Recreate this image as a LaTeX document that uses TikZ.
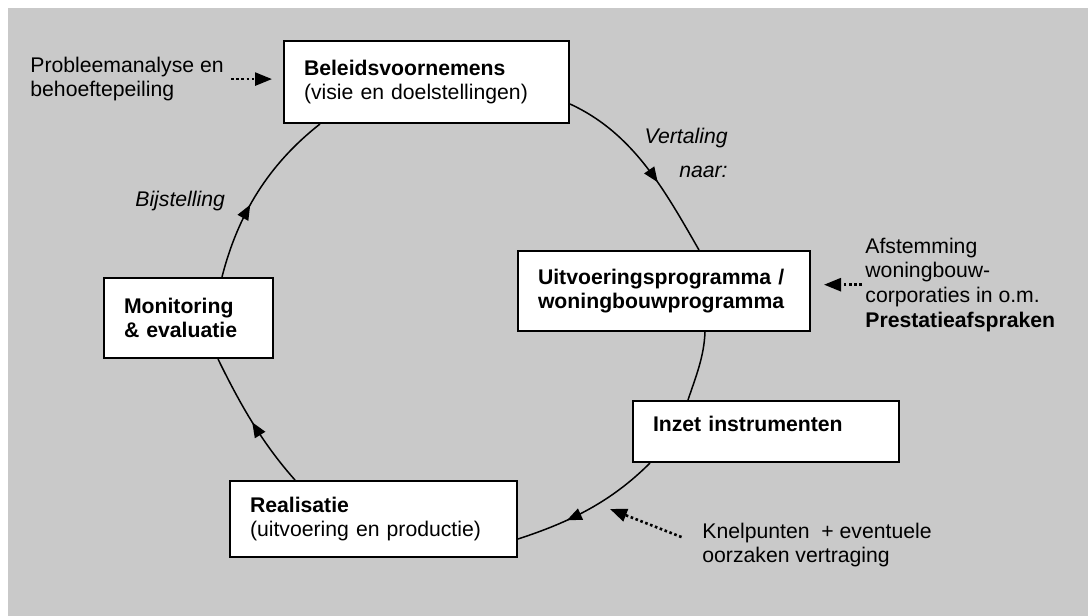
\documentclass[tikz,border=0pt]{standalone}
\usepackage{fontspec}
\setmainfont{Liberation Sans}
\usepackage{tikz}
\usetikzlibrary{arrows.meta}
\usetikzlibrary{decorations.markings}
\usetikzlibrary{positioning}
\definecolor{bggray}{HTML}{C9C9C9}

\begin{document}
\begin{tikzpicture}[
  x=0.5pt, y=-0.5pt,
  every node/.style={font=\fontsize{10.6}{12.3}\selectfont},
  stage/.style 2 args={
    draw, line width=1pt, fill=white,
    anchor=north west, align=left,
    inner xsep=10pt, inner ysep=0pt,
    text width=#1, minimum height=#2},
  note/.style={anchor=north west, align=left, inner sep=0pt},
  lbl/.style={font=\fontsize{10.6}{12.3}\selectfont\itshape, inner sep=0pt},
  flow/.style={
    line width=0.75pt,
    decoration={markings,
      mark=at position #1 with {\arrow{Triangle[length=7.5pt,width=6pt]}}},
    postaction={decorate}},
  feed/.style={
    -{Triangle[length=8.5pt,width=6.5pt]}, line width=1.3pt,
    dash pattern=on 1.3pt off 1.3pt},
]

  % Background
  \useasboundingbox (0,0) rectangle (1088,616);
  \fill[bggray] (8,8) rectangle (1088,616);

  % Stages of the cycle
  \node[stage={122.5pt}{41pt}] (bel) at (283,40)
    {\textbf{Beleidsvoornemens}\\(visie en doelstellingen)};
  \node[stage={126pt}{40pt}] (uitv) at (517,250)
    {\textbf{Uitvoeringsprogramma /}\\\textbf{woningbouwprogramma}};
  \node[stage={113pt}{30.5pt}, text depth=7.5pt] (inzet) at (632,400)
    {\textbf{Inzet instrumenten}};
  \node[stage={123.5pt}{38pt}] (real) at (229,480)
    {\textbf{Realisatie}\\(uitvoering en productie)};
  \node[stage={64.5pt}{40pt}] (mon) at (103,277)
    {\textbf{Monitoring}\\\textbf{\& evaluatie}};

  % Inputs from outside
  \node[note] (probl) at (30,56.5) {Probleemanalyse en\\behoeftepeiling};
  \node[note] (afst) at (865,237.5)
    {Afstemming\\woningbouw-\\corporaties in o.m.\\\textbf{Prestatieafspraken}};
  \node[note] (knel) at (702,522.5) {Knelpunten\ \ + eventuele\\oorzaken vertraging};

  % Arc labels
  \node[lbl, anchor=base east] (vert) at (728,143) {Vertaling};
  \node[lbl, anchor=base east] (naar) at (728,177) {naar:};
  \node[lbl, anchor=base west] (bijst) at (135,206) {Bijstelling};

  % The cycle
  \draw[flow=0.6] ([yshift=10pt]bel.south east)
    .. controls +(63,29) and +(-35,-61) .. ([xshift=-56pt]uitv.north east);
  \draw[line width=0.75pt] ([xshift=-53pt]uitv.south east)
    .. controls +(-1,25) and +(8,-24) .. ([xshift=28pt]inzet.north west);
  \draw[flow=0.66] ([xshift=9pt]inzet.south west)
    .. controls +(-39,39) and +(52,-17) .. ([yshift=9.5pt]real.south east);
  \draw[flow=0.5] ([xshift=33pt]real.north west)
    .. controls +(-33,-37) and +(22,45) .. ([xshift=57.5pt]mon.south west);
  \draw[flow=0.42] ([xshift=59.5pt]mon.north west)
    .. controls +(16,-63) and +(-51,40) .. ([xshift=18.5pt]bel.south west);

  % Dotted inputs
  \draw[feed, shorten <=3.5pt, shorten >=5.5pt] (probl.east) -- (probl.east -| bel.west);
  \draw[feed, shorten <=1.5pt, shorten >=6.5pt] (afst.west) -- (afst.west -| uitv.east);
  \coordinate (knelpt) at (610,509);
  \draw[feed, shorten <=11pt] (knel.west) -- (knelpt);

\end{tikzpicture}
\end{document}
